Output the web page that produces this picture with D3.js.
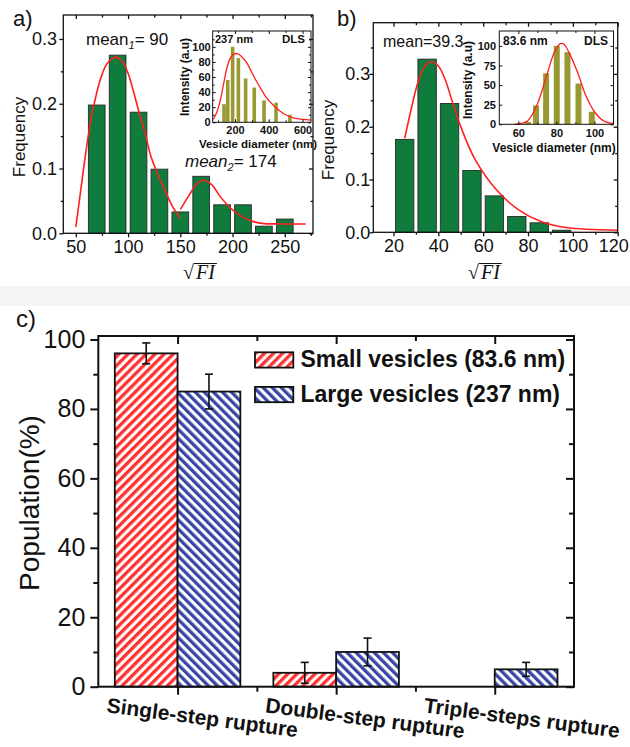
<!DOCTYPE html>
<html>
<head>
<meta charset="utf-8">
<script src="https://cdn.jsdelivr.net/npm/d3@7"></script>
<style>
  body { margin: 0; background: #fff; }
  svg { display: block; }
</style>
</head>
<body>
<svg id="fig" width="630" height="747"></svg>
<script>
// ---- panel a : sqrt(FI) histogram, large vesicles
const binsA = [70, 90, 110, 130, 150, 170, 190, 210, 230, 250];
const freqA = [0.198, 0.275, 0.187, 0.099, 0.033, 0.088, 0.044, 0.044, 0.011, 0.022];
const fitA1 = [[50,0.01],[55,0.07],[60,0.13],[65,0.18],[70,0.217],[75,0.245],[80,0.262],[88,0.272],
               [95,0.264],[100,0.247],[105,0.22],[110,0.19],[117,0.15],[122,0.118],[130,0.085],
               [137,0.06],[143,0.04],[150,0.023]];
const fitA2 = [[150,0.037],[155,0.05],[160,0.063],[165,0.075],[172,0.082],[180,0.075],[188,0.057],
               [195,0.044],[200,0.036],[210,0.025],[220,0.018],[230,0.015],[240,0.0145],[270,0.0145]];
// inset a : DLS
const dlsSizeA = [135, 157, 186, 220, 263, 314, 372, 443, 525];
const dlsIntA  = [24, 56, 100, 85, 58, 46, 29, 26, 10];
const dlsFitA  = [[72,4],[90,12],[111,27],[130,48],[151,71],[170,84],[190,90],[214,91],[240,87],
                  [269,79],[300,66],[328,54],[360,42],[388,32],[430,22],[466,15],[500,10],[545,6],
                  [600,4],[650,3]];

// ---- panel b : sqrt(FI) histogram, small vesicles
const binsB = [25, 35, 45, 55, 65, 75, 85, 95];
const freqB = [0.176, 0.328, 0.244, 0.117, 0.069, 0.030, 0.018, 0.004];
const fitB  = [[25,0.178],[28,0.235],[31,0.285],[34,0.315],[37,0.323],[40,0.315],[43,0.29],
               [46.5,0.244],[50,0.2],[56.5,0.137],[66,0.08],[76,0.042],[86,0.02],[97,0.009],[120,0.004]];
// inset b : DLS
const dlsSizeB = [65, 69.3, 74.6, 80.2, 85.8, 91.6, 98.6];
const dlsIntB  = [3, 24, 65, 100, 92, 52, 16];
const dlsFitB  = [[58,0],[62,1.5],[65,4.6],[70,26],[75,63],[78.6,90],[82,103],[84,102],[86.5,92],
                  [91,67],[95.4,37],[100,16],[105,4],[110,1]];

// ---- panel c : rupture populations
const cats = ["Single-step rupture", "Double-step rupture", "Triple-steps rupture"];
const seriesNames = ["Small vesicles (83.6 nm)", "Large vesicles (237 nm)"];
const smallPop = [96, 4, 0];
const smallErr = [3, 3, 0];
const largePop = [85, 10, 5];
const largeErr = [5, 4, 2];

const SANS = 'Arial, "Liberation Sans", sans-serif';
const SERIF = '"Liberation Serif", "DejaVu Serif", serif';
const INK = "#111";

const svg = d3.select("#fig");
svg.append("rect").attr("width", 630).attr("height", 747).attr("fill", "#fff");
svg.append("rect").attr("x", 0).attr("y", 286).attr("width", 630).attr("height", 20).attr("fill", "#f5f5f5");

const defs = svg.append("defs");
function hatch(id, color, angle) {
  const p = defs.append("pattern").attr("id", id).attr("patternUnits", "userSpaceOnUse")
    .attr("width", 6.4).attr("height", 6.4).attr("patternTransform", `rotate(${angle})`);
  p.append("rect").attr("width", 6.4).attr("height", 6.4).attr("fill", "#fff");
  p.append("rect").attr("width", 3.3).attr("height", 6.4).attr("fill", color);
}
hatch("hRed", "#ff3030", 45);
hatch("hBlue", "#3a46a6", -45);

// frame with ticks on four sides (Origin style)
function box(g, x, y, o) {
  const [xa, xb] = x.range(), [ya, yb] = y.range();
  const s = o.inward ? -1 : 1;
  const add = (axis, tr) => g.append("g").attr("transform", tr).call(axis)
    .call(a => a.select(".domain").remove());
  if (o.xMinor) {
    add(d3.axisBottom(x).tickValues(o.xMinor).tickSize(s * o.mn).tickFormat(""), `translate(0,${ya})`);
    add(d3.axisTop(x).tickValues(o.xMinor).tickSize(-o.mn).tickFormat(""), `translate(0,${yb})`);
  }
  if (o.yMinor) {
    add(d3.axisLeft(y).tickValues(o.yMinor).tickSize(s * o.mn).tickFormat(""), `translate(${xa},0)`);
    add(d3.axisRight(y).tickValues(o.yMinor).tickSize(-o.mn).tickFormat(""), `translate(${xb},0)`);
  }
  const bx = add(d3.axisBottom(x).tickValues(o.xTicks).tickSize(s * o.mj).tickPadding(o.xPad).tickFormat(o.xFmt), `translate(0,${ya})`);
  add(d3.axisTop(x).tickValues(o.xTicks).tickSize(-o.mj).tickFormat(""), `translate(0,${yb})`);
  const ly = add(d3.axisLeft(y).tickValues(o.yTicks).tickSize(s * o.mj).tickPadding(o.yPad).tickFormat(o.yFmt), `translate(${xa},0)`);
  add(d3.axisRight(y).tickValues(o.yTicks).tickSize(-o.mj).tickFormat(""), `translate(${xb},0)`);
  g.selectAll(".tick line").attr("stroke", INK).attr("stroke-width", o.sw);
  g.selectAll(".tick text").attr("font-family", SANS).attr("font-size", o.fs)
    .attr("font-weight", o.fw || "normal").attr("fill", INK);
  g.append("rect").attr("x", xa).attr("y", yb).attr("width", xb - xa).attr("height", ya - yb)
    .attr("fill", "none").attr("stroke", INK).attr("stroke-width", o.sw);
  return bx;
}

const curve = (x, y) => d3.line().x(d => x(d[0])).y(d => y(d[1])).curve(d3.curveCatmullRom.alpha(0.5));

function histogram(bins, freq, width, x, y, g) {
  g.append("g").selectAll("rect")
    .data(bins.map((b, i) => ({ b, f: freq[i] })))
    .join("rect")
    .attr("x", d => x(d.b - width / 2))
    .attr("y", d => y(d.f))
    .attr("width", d => x(d.b + width / 2) - x(d.b - width / 2))
    .attr("height", d => y(0) - y(d.f))
    .attr("fill", "#0f7b3c")
    .attr("stroke", "#2a2a2a")
    .attr("stroke-width", 0.9);
}

function dlsInset(g, sizes, ints, fit, x, y, barW, o) {
  g.append("g").selectAll("rect")
    .data(sizes.map((s, i) => ({ s, v: ints[i] })))
    .join("rect")
    .attr("x", d => x(d.s) - barW / 2)
    .attr("y", d => y(d.v))
    .attr("width", barW)
    .attr("height", d => y(0) - y(d.v))
    .attr("fill", "#999933");
  g.append("path").datum(fit).attr("d", curve(x, y)).attr("fill", "none")
    .attr("stroke", "#ff1f1f").attr("stroke-width", 1.3);
  return box(g, x, y, o);
}

function sqrtFI(cx, by) {
  const g = svg.append("g").attr("transform", `translate(${cx},${by})`);
  g.append("text").attr("x", -17).attr("font-family", SERIF).attr("font-size", 20).attr("fill", INK).text("√");
  const t = g.append("text").attr("x", -4).attr("font-family", SERIF).attr("font-style", "italic")
    .attr("font-size", 20).attr("fill", INK).text("FI");
  const w = t.node().getComputedTextLength();
  g.append("line").attr("x1", -6).attr("x2", -2 + w).attr("y1", -15.5).attr("y2", -15.5)
    .attr("stroke", INK).attr("stroke-width", 1);
}

function label(txt, x, y, size, extra) {
  const t = svg.append("text").attr("x", x).attr("y", y).attr("font-family", SANS)
    .attr("font-size", size).attr("fill", INK).text(txt);
  if (extra) extra(t);
  return t;
}
const rotLabel = (txt, x, y, size, weight) => svg.append("text")
  .attr("transform", `translate(${x},${y}) rotate(-90)`).attr("text-anchor", "middle")
  .attr("font-family", SANS).attr("font-size", size).attr("font-weight", weight || "normal")
  .attr("fill", INK).text(txt);

// ================= panel a =================
const xA = d3.scaleLinear().domain([38, 277]).range([63.3, 313]);
const yA = d3.scaleLinear().domain([0, 0.337]).range([233.3, 15]);
const gA = svg.append("g");
histogram(binsA, freqA, 16, xA, yA, gA);
[fitA1, fitA2].forEach(f => gA.append("path").datum(f).attr("d", curve(xA, yA))
  .attr("fill", "none").attr("stroke", "#ff1f1f").attr("stroke-width", 1.6));
box(gA, xA, yA, {
  xTicks: [50, 100, 150, 200, 250], xMinor: [75, 125, 175, 225, 275],
  yTicks: [0, 0.1, 0.2, 0.3], yMinor: [0.05, 0.15, 0.25],
  xFmt: d3.format("d"), yFmt: d3.format(".1f"),
  mj: 4, mn: 2.5, xPad: 3, yPad: 2.3, sw: 1.3, fs: 18
});
const xIA = d3.scaleLinear().domain([68, 650]).range([212.7, 311]);
const yIA = d3.scaleLinear().domain([0, 121]).range([122.3, 31]);
dlsInset(svg.append("g"), dlsSizeA, dlsIntA, dlsFitA, xIA, yIA, 3.6, {
  xTicks: [200, 400, 600], xMinor: [100, 300, 500],
  yTicks: [0, 20, 40, 60, 80, 100], yMinor: [10, 30, 50, 70, 90, 110],
  xFmt: d3.format("d"), yFmt: d3.format("d"), inward: true,
  mj: 3, mn: 2, xPad: 4.3, yPad: 2, sw: 1, fs: 11, fw: "bold"
});
label("237 nm", 215, 43, 11, t => t.attr("font-weight", "bold"));
label("DLS", 305, 43, 11.5, t => t.attr("font-weight", "bold").attr("text-anchor", "end"));
rotLabel("Intensity (a.u)", 189, 77, 12, "bold");
label("Vesicle diameter (nm)", 258, 148, 11.5, t => t.attr("font-weight", "bold").attr("text-anchor", "middle"));

label("a)", 13, 26, 22);
rotLabel("Frequency", 25, 137, 17);
sqrtFI(200, 279);
label("", 86, 45, 17, t => {
  t.append("tspan").text("mean");
  t.append("tspan").attr("font-style", "italic").attr("font-size", 11).attr("dy", 4).text("1");
  t.append("tspan").attr("dy", -4).text("= 90");
});
label("", 185, 167, 17, t => {
  t.append("tspan").attr("font-style", "italic").text("mean");
  t.append("tspan").attr("font-style", "italic").attr("font-size", 11).attr("dy", 4).text("2");
  t.append("tspan").attr("dy", -4).text("= 174");
});

// ================= panel b =================
const xB = d3.scaleLinear().domain([11, 120]).range([373.3, 617.7]);
const yB = d3.scaleLinear().domain([0, 0.397]).range([232.3, 22.7]);
const gB = svg.append("g");
histogram(binsB, freqB, 8.2, xB, yB, gB);
gB.append("path").datum(fitB).attr("d", curve(xB, yB))
  .attr("fill", "none").attr("stroke", "#ff1f1f").attr("stroke-width", 1.6);
const bxB = box(gB, xB, yB, {
  xTicks: [20, 40, 60, 80, 100, 120], xMinor: [30, 50, 70, 90, 110],
  yTicks: [0, 0.1, 0.2, 0.3], yMinor: [0.05, 0.15, 0.25, 0.35],
  xFmt: d3.format("d"), yFmt: d3.format(".1f"),
  mj: 4, mn: 2.5, xPad: 3, yPad: -1, sw: 1.3, fs: 18
});
// last label sits at the picture's right edge
bxB.selectAll(".tick text").filter(d => d === 120).attr("dx", -4.5);
const xIB = d3.scaleLinear().domain([50, 110]).range([499.3, 613.5]);
const yIB = d3.scaleLinear().domain([0, 119]).range([124.3, 31]);
dlsInset(svg.append("g"), dlsSizeB, dlsIntB, dlsFitB, xIB, yIB, 6, {
  xTicks: [60, 80, 100], xMinor: [70, 90],
  yTicks: [0, 25, 50, 75, 100],
  xFmt: d3.format("d"), yFmt: d3.format("d"), inward: true,
  mj: 3, mn: 2, xPad: 5, yPad: 3.3, sw: 1, fs: 11, fw: "bold"
});
label("83.6 nm", 503, 45, 12, t => t.attr("font-weight", "bold"));
label("DLS", 608, 45, 12, t => t.attr("font-weight", "bold").attr("text-anchor", "end"));
rotLabel("Intensity (a.u)", 472, 80, 12, "bold");
label("Vesicle diameter (nm)", 554, 151.5, 12, t => t.attr("font-weight", "bold").attr("text-anchor", "middle"));

label("b)", 337, 26, 22);
rotLabel("Frequency", 334, 140, 17);
sqrtFI(485, 279);
label("mean=39.3", 383, 47, 16);

// ================= panel c =================
const xc = d3.scaleBand().domain(cats).range([98.3, 574]);
const xcIdx = d3.scaleLinear().domain([0, cats.length]).range(xc.range());
const xs = d3.scaleBand().domain(seriesNames).range([0, xc.bandwidth()]).paddingOuter(0.263);
const yc = d3.scaleLinear().domain([0, 101]).range([686.7, 336]);
const fills = { [seriesNames[0]]: "url(#hRed)", [seriesNames[1]]: "url(#hBlue)" };

const rows = [];
cats.forEach((c, i) => {
  rows.push({ c, s: seriesNames[0], v: smallPop[i], e: smallErr[i] });
  rows.push({ c, s: seriesNames[1], v: largePop[i], e: largeErr[i] });
});
const gC = svg.append("g");
const shown = rows.filter(d => d.v > 0);
gC.append("g").selectAll("rect").data(shown).join("rect")
  .attr("x", d => xc(d.c) + xs(d.s))
  .attr("y", d => yc(d.v))
  .attr("width", xs.bandwidth())
  .attr("height", d => yc(0) - yc(d.v))
  .attr("fill", d => fills[d.s])
  .attr("stroke", INK).attr("stroke-width", 1.8);
const eb = gC.append("g").attr("stroke", INK).attr("stroke-width", 1.6);
shown.filter(d => d.e > 0).forEach(d => {
  const cx = xc(d.c) + xs(d.s) + xs.bandwidth() / 2;
  eb.append("line").attr("x1", cx).attr("x2", cx).attr("y1", yc(d.v - d.e)).attr("y2", yc(d.v + d.e));
  [d.v - d.e, d.v + d.e].forEach(v => eb.append("line")
    .attr("x1", cx - 4).attr("x2", cx + 4).attr("y1", yc(v)).attr("y2", yc(v)));
});
const bxC = box(gC, xcIdx, yc, {
  xTicks: cats.map((c, i) => i + 0.5), xMinor: [1, 2],
  yTicks: [0, 20, 40, 60, 80, 100], yMinor: [10, 30, 50, 70, 90],
  xFmt: i => cats[Math.floor(i)], yFmt: d3.format("d"),
  mj: 8, mn: 5, xPad: 4, yPad: 5, sw: 2, fs: 25
});
bxC.selectAll("text").attr("font-size", 21).attr("font-weight", "bold")
  .attr("text-anchor", "start").attr("y", 0).attr("dy", 0)
  .attr("transform", "translate(-72,25.5) rotate(7.5)");

// legend
const leg = gC.append("g");
seriesNames.forEach((s, i) => {
  const ly = 352.3 + i * 34.6;
  leg.append("rect").attr("x", 255).attr("y", ly).attr("width", 38.3).attr("height", 15.3)
    .attr("fill", fills[s]).attr("stroke", INK).attr("stroke-width", 1.8);
  leg.append("text").attr("x", 300.5).attr("y", ly + 14.7).attr("font-family", SANS)
    .attr("font-size", 23).attr("font-weight", "bold").attr("fill", INK).text(s);
});

label("c)", 16, 327, 24);
rotLabel("Population(%)", 39, 503, 28);
</script>
</body>
</html>
